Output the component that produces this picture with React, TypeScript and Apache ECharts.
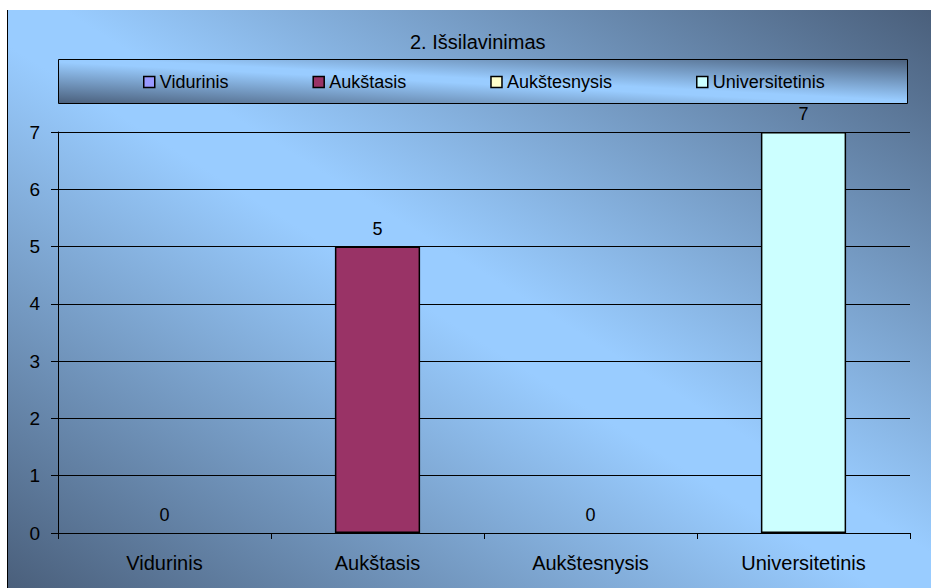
import React, { useEffect, useRef } from "react";
import * as echarts from "echarts";

const titleText = "2. Išsilavinimas";
const categories = ["Vidurinis", "Aukštasis", "Aukštesnysis", "Universitetinis"];
const values = [0, 5, 0, 7];
const colors = ["#9999FF", "#993366", "#FFFFCC", "#CCFFFF"];
const yTicks = { min: 0, max: 7, interval: 1 };

const FONT = "'Liberation Sans', Arial, sans-serif";
const DARK = "#4A5F7B";
const LIGHT = "#99CCFF";

function diagGradient() {
  return new echarts.graphic.LinearGradient(1, 0, 0, 1, [
    { offset: 0, color: DARK },
    { offset: 0.47, color: LIGHT },
    { offset: 0.53, color: LIGHT },
    { offset: 1, color: DARK },
  ]);
}

export default function App() {
  const ref = useRef<HTMLDivElement>(null);
  useEffect(() => {
    if (!ref.current) return;
    const chart = echarts.init(ref.current, null, { renderer: "svg" });
    const series = categories.map((name, i) => ({
      name,
      type: "bar",
      stack: "total",
      barWidth: "40%",
      data: values.map((v, j) =>
        j === i
          ? {
              value: v,
              itemStyle:
                v === 0 ? { borderWidth: 0, color: "rgba(0,0,0,0)" } : {},
            }
          : "-"
      ),
      itemStyle: { color: colors[i], borderColor: "#000", borderWidth: 1.5 },
      label: {
        show: true,
        position: "top",
        distance: 9,
        color: "#000",
        fontSize: 18,
        fontFamily: FONT,
      },
    }));
    chart.setOption({
      animation: false,
      backgroundColor: "#fff",
      textStyle: { fontFamily: FONT },
      graphic: [
        {
          type: "rect",
          z: -10,
          shape: { x: 7, y: 10, width: 924, height: 578 },
          style: { fill: diagGradient() },
        },
        {
          type: "line",
          z: -9,
          shape: { x1: 7.5, y1: 10, x2: 7.5, y2: 588 },
          style: { stroke: "#000", lineWidth: 1 },
        },
        {
          type: "rect",
          z: -8,
          shape: { x: 58.5, y: 59.5, width: 849, height: 44 },
          style: { fill: diagGradient(), stroke: "#000", lineWidth: 1 },
        },
      ],
      title: {
        text: titleText,
        left: 410,
        top: 32,
        padding: 0,
        textStyle: { fontSize: 20, fontWeight: "normal", color: "#000", fontFamily: FONT },
      },
      legend: {
        data: categories,
        left: 143,
        top: 73,
        padding: 0,
        icon: "rect",
        itemWidth: 11,
        itemHeight: 11,
        itemGap: 84,
        itemStyle: { borderColor: "#000", borderWidth: 1.5 },
        textStyle: { fontSize: 18, color: "#000", fontFamily: FONT },
      },
      grid: { left: 58, right: 21, top: 132, bottom: 55, containLabel: false },
      xAxis: {
        type: "category",
        data: categories,
        axisLine: { lineStyle: { color: "#000", width: 1 } },
        axisTick: { show: true, length: 6, lineStyle: { color: "#000" } },
        axisLabel: { fontSize: 20, color: "#000", margin: 20, fontFamily: FONT },
      },
      yAxis: {
        type: "value",
        min: yTicks.min,
        max: yTicks.max,
        interval: yTicks.interval,
        axisLine: { show: true, lineStyle: { color: "#000", width: 1 } },
        axisTick: { show: true, length: 7, lineStyle: { color: "#000" } },
        splitLine: { lineStyle: { color: "#000", width: 1 } },
        axisLabel: { fontSize: 19, color: "#000", margin: 18, fontFamily: FONT },
      },
      series,
    });
    return () => chart.dispose();
  }, []);
  return (
    <div
      ref={ref}
      style={{ position: "absolute", left: 0, top: 0, width: 931, height: 588 }}
    />
  );
}
